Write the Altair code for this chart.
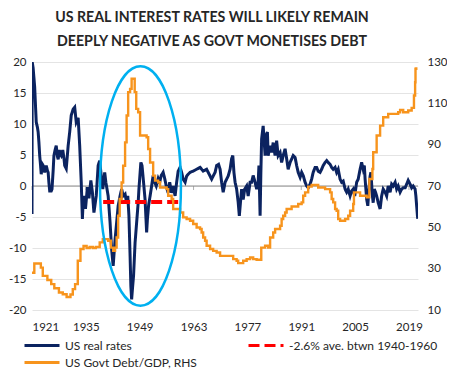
import altair as alt
import pandas as pd

# ---------------- data ----------------
rate_year = [1921.0, 1921.05, 1921.3, 1921.7, 1922.1, 1922.4, 1922.6, 1922.8, 1923.0, 1923.2,
             1923.4, 1923.7, 1923.9, 1924.3, 1924.7, 1925.0, 1925.2, 1925.4, 1925.6, 1926.0,
             1926.2, 1926.5, 1926.7, 1927.0, 1927.3, 1927.6, 1927.8, 1928.1, 1928.3, 1928.6,
             1929.0, 1929.3, 1929.5, 1929.9, 1930.2, 1930.4, 1930.8, 1931.2, 1931.7, 1932.1,
             1932.3, 1932.5, 1933.0, 1933.4, 1933.8, 1934.1, 1934.3, 1934.5, 1934.9, 1935.4,
             1935.8, 1936.3, 1936.7, 1937.1, 1937.7, 1938.2, 1938.6, 1939.0, 1939.4, 1939.9,
             1940.2, 1940.5, 1940.8, 1941.3, 1941.7, 1942.1, 1942.6, 1943.0, 1943.4, 1943.9,
             1944.3, 1944.7, 1945.2, 1945.6, 1945.9, 1946.2, 1946.5, 1946.7, 1946.9, 1947.1,
             1947.4, 1947.8, 1948.2, 1948.6, 1948.8, 1949.3, 1949.6, 1950.0, 1950.4, 1950.8,
             1951.0, 1951.3, 1951.7, 1952.1, 1952.5, 1952.9, 1953.3, 1953.8, 1954.2, 1954.6,
             1955.1, 1955.5, 1955.9, 1956.4, 1956.8, 1957.3, 1957.7, 1958.2, 1958.6, 1959.0,
             1959.5, 1959.9, 1960.3, 1960.8, 1961.2, 1961.6, 1962.1, 1962.9, 1963.8, 1964.7,
             1965.5, 1966.4, 1967.3, 1967.7, 1968.1, 1968.6, 1969.0, 1969.5, 1969.9, 1970.3,
             1970.7, 1971.2, 1971.6, 1972.0, 1972.5, 1972.9, 1973.2, 1973.5, 1973.8, 1974.2,
             1974.6, 1974.9, 1975.2, 1975.5, 1975.9, 1976.3, 1976.8, 1977.2, 1977.7, 1978.1,
             1978.5, 1979.0, 1979.4, 1979.8, 1980.0, 1980.3, 1980.5, 1980.7, 1981.1, 1981.6,
             1981.8, 1982.2, 1982.4, 1982.9, 1983.3, 1983.7, 1984.2, 1984.6, 1985.0, 1985.5,
             1985.9, 1986.3, 1986.8, 1987.2, 1987.6, 1988.1, 1988.9, 1989.4, 1989.8, 1990.2,
             1990.7, 1991.1, 1991.5, 1992.0, 1992.4, 1992.8, 1993.3, 1993.7, 1994.1, 1994.6,
             1995.0, 1995.4, 1995.9, 1996.3, 1996.7, 1997.2, 1997.6, 1998.0, 1998.5, 1998.9,
             1999.3, 1999.8, 2000.2, 2000.6, 2001.1, 2001.5, 2001.9, 2002.4, 2002.8, 2003.2,
             2003.7, 2004.1, 2004.5, 2004.9, 2005.4, 2005.8, 2006.3, 2006.7, 2007.1, 2007.4,
             2007.6, 2008.0, 2008.3, 2008.6, 2008.9, 2009.1, 2009.5, 2009.7, 2010.0, 2010.3,
             2010.6, 2011.0, 2011.5, 2011.9, 2012.3, 2012.8, 2013.2, 2013.6, 2014.1, 2014.5,
             2014.9, 2015.4, 2015.8, 2016.2, 2016.7, 2017.1, 2017.5, 2018.0, 2018.4, 2018.8,
             2019.3, 2019.7, 2020.1, 2020.6, 2020.8, 2021.2, 2021.3]
rate_val = [-4.5, 20.0, 19.0, 15.9, 10.3, 9.5, 8.7, 7.0, 4.9, 3.5,
            1.9, 3.5, 3.3, 2.2, 3.3, 2.5, 2.2, 0.5, -0.8, -0.8,
            -0.5, 2.5, 4.9, 5.8, 6.5, 4.8, 4.3, 5.8, 5.2, 4.9,
            5.8, 4.5, 3.3, 2.8, 5.0, 6.5, 8.7, 11.4, 12.4, 12.7,
            11.5, 10.3, 11.0, 6.5, 0.6, -5.3, -2.5, -1.6, -3.7, -0.2,
            -2.0, 0.9, -1.0, -4.3, -1.6, 3.3, 4.1, 1.6, -0.5, 2.2,
            0.6, -0.5, -1.6, -5.9, -10.2, -12.9, -8.6, -5.9, -3.2, -1.6,
            -0.5, -1.6, -1.3, -2.7, -1.6, -4.8, -11.3, -16.1, -18.3, -16.7,
            -14.5, -9.1, -5.9, -2.7, -0.5, 3.8, 3.3, 0.6, -2.2, -7.5,
            -5.4, -3.2, -1.6, 0.0, 1.7, 0.6, 0.0, 1.2, 0.6, 1.7,
            2.2, 1.2, 0.0, -1.1, 0.6, -1.1, 0.0, -1.6, 0.6, 2.4,
            3.0, 2.2, 1.1, 0.6, 1.6, 1.9, 2.2, 2.4, 2.7, 3.0,
            2.4, 2.7, 1.6, 1.1, 1.6, 2.2, 3.3, 3.5, 2.7, 0.6,
            -1.0, 0.6, 1.1, 1.6, 2.7, 4.4, 4.9, 2.2, 0.6, -0.5,
            -2.6, -4.8, -2.6, -0.5, -2.2, -0.5, 0.0, -1.6, 0.6, 0.6,
            1.7, 0.6, -0.5, 0.6, 3.3, -4.8, 2.2, 7.6, 9.7, 4.9,
            8.1, 8.7, 4.9, 6.5, 5.4, 7.0, 4.9, 7.3, 4.9, 5.4,
            3.8, 4.9, 6.0, 4.4, 2.7, 3.8, 4.9, 4.6, 3.3, 2.2,
            1.4, 2.2, 1.7, 0.6, 0.0, -0.3, 0.3, 1.1, 2.2, 3.0,
            3.0, 2.4, 2.2, 2.7, 3.3, 3.8, 4.1, 3.8, 3.5, 3.0,
            2.7, 3.0, 2.2, 2.7, 1.1, 0.6, 0.8, -0.5, -1.0, -0.5,
            -1.6, -0.8, -0.5, -1.6, 0.6, 1.1, 2.7, 3.8, 2.7, 3.3,
            1.1, -2.1, -3.2, -0.5, 1.6, 2.2, -1.6, -2.7, -0.5, -1.0,
            -1.6, -2.7, -3.7, -1.6, -0.5, -1.0, -1.6, 0.0, -1.0, 0.3,
            0.0, 0.6, -0.5, 0.0, -1.0, -0.5, -0.3, -0.3, 0.3, 0.9,
            0.3, -0.3, 0.0, -0.5, -1.6, -4.8, -5.3]

debt_year = [1921.0, 1921.6, 1923.3, 1923.8, 1925.0, 1926.0, 1926.8, 1928.0, 1929.0, 1930.0,
             1931.0, 1931.6, 1932.2, 1932.9, 1933.6, 1934.4, 1935.2, 1936.0, 1936.8, 1937.6,
             1938.6, 1939.4, 1940.8, 1941.5, 1942.1, 1942.6, 1943.0, 1943.4, 1943.8, 1944.3,
             1944.7, 1945.2, 1945.6, 1946.0, 1946.5, 1946.9, 1947.7, 1948.1, 1948.6, 1949.1,
             1950.8, 1951.2, 1951.7, 1952.5, 1953.0, 1953.8, 1954.3, 1956.0, 1956.4, 1957.3,
             1957.7, 1959.5, 1960.3, 1961.2, 1962.1, 1962.9, 1963.8, 1964.7, 1965.1, 1965.5,
             1966.0, 1966.4, 1967.3, 1968.1, 1969.0, 1969.9, 1973.3, 1974.2, 1974.6, 1975.9,
             1976.8, 1977.7, 1978.5, 1979.4, 1980.6, 1981.6, 1982.4, 1982.9, 1983.7, 1984.2,
             1985.5, 1985.9, 1986.3, 1986.8, 1987.2, 1988.5, 1990.2, 1991.1, 1991.5, 1992.0,
             1992.8, 1993.7, 1995.4, 1997.2, 1998.5, 1998.9, 1999.3, 1999.8, 2000.2, 2000.6,
             2001.1, 2002.4, 2003.2, 2003.7, 2004.5, 2004.7, 2006.3, 2008.0, 2008.7, 2009.5,
             2009.7, 2010.6, 2011.5, 2012.3, 2013.6, 2016.2, 2016.7, 2017.5, 2018.8, 2019.7,
             2020.3, 2020.6, 2020.7, 2020.9]
debt_val = [28.0, 32.5, 30.5, 26.5, 24.5, 22.5, 20.5, 18.5, 17.6, 16.3,
            17.5, 20.1, 22.5, 33.8, 39.5, 41.0, 40.0, 40.5, 40.0, 40.5,
            42.7, 44.3, 43.5, 40.2, 38.6, 40.2, 45.1, 55.6, 63.7, 71.7,
            79.8, 91.1, 104.1, 115.4, 117.0, 121.9, 115.4, 107.3, 105.7, 94.4,
            93.6, 87.9, 81.4, 75.0, 72.6, 71.8, 69.3, 68.5, 65.3, 63.7,
            58.9, 57.2, 54.8, 54.0, 53.2, 51.6, 49.9, 49.2, 47.5, 45.1,
            43.5, 41.1, 39.5, 38.6, 37.8, 36.2, 34.6, 33.8, 32.7, 33.8,
            34.6, 35.4, 34.6, 34.3, 40.2, 41.1, 40.2, 45.1, 47.5, 49.2,
            50.8, 54.0, 55.6, 57.2, 58.9, 60.1, 61.3, 62.1, 65.3, 66.9,
            69.7, 70.5, 69.3, 68.5, 66.9, 63.7, 62.1, 58.9, 58.0, 54.0,
            53.2, 54.0, 55.6, 58.0, 61.3, 66.9, 65.3, 64.5, 73.4, 78.2,
            86.3, 94.4, 99.2, 103.3, 104.9, 105.7, 106.8, 105.7, 106.5, 107.8,
            113.8, 120.2, 126.7, 127.5]

avg_years = [1939.5, 1959.0]
avg_value = -2.6
highlight_year = [1949.2]
highlight_value = [0]

x_tick_years = [1921, 1935, 1949, 1963, 1977, 1991, 2005, 2019]
left_ticks = [-20, -15, -10, -5, 0, 5, 10, 15, 20]
right_ticks = [10, 30, 50, 70, 90, 110, 130]

S_RATE = "US real rates"
S_AVG = "-2.6% ave. btwn 1940-1960"
S_DEBT = "US Govt Debt/GDP, RHS"
series_names = [S_RATE, S_AVG, S_DEBT]

title_lines = ["US REAL INTEREST RATES  WILL LIKELY REMAIN",
               "DEEPLY NEGATIVE AS GOVT MONETISES DEBT"]

# ---------------- styling ----------------
NAVY = "#0B2360"
ORANGE = "#F7941D"
RED = "#FF0000"
CYAN = "#00B0F0"
FONT = "Lato"
TXT = "#262626"

rates_df = pd.DataFrame({"year": rate_year, "val": rate_val, "series": S_RATE})
debt_df = pd.DataFrame({"year": debt_year, "debt": debt_val, "series": S_DEBT})
avg_df = pd.DataFrame({"year": avg_years, "val": [avg_value] * len(avg_years), "series": S_AVG})
ticks_df = pd.DataFrame({"year": x_tick_years, "val": [0] * len(x_tick_years)})
zero_df = pd.DataFrame({"val": [0]})
ell_df = pd.DataFrame({"year": highlight_year, "val": highlight_value})

x_scale = alt.Scale(domain=[1921, 2021.35], nice=False, zero=False)
left_scale = alt.Scale(domain=[-20, 20], nice=False)
right_scale = alt.Scale(domain=[10, 130], nice=False, zero=False)

legend = alt.Legend(
    orient="none", legendX=-9, legendY=277, columns=2, direction="horizontal",
    columnPadding=50, rowPadding=4, clipHeight=13, symbolType="stroke", symbolSize=1225,
    symbolStrokeWidth=3, labelFont=FONT, labelFontSize=12, labelColor=TXT,
    labelOffset=4, title=None, labelLimit=300, values=series_names,
)
color_enc = alt.Color("series:N", scale=alt.Scale(domain=series_names, range=[NAVY, RED, ORANGE]),
                      legend=legend)
dash_enc = alt.StrokeDash("series:N", scale=alt.Scale(domain=series_names, range=[[1, 0], [11, 5], [1, 0]]),
                          legend=legend)

x_axis = alt.Axis(values=x_tick_years, format="d", title=None, grid=False, domain=False,
                  ticks=False, labelPadding=11, labelFont=FONT, labelFontSize=11.5,
                  labelColor=TXT)
left_axis = alt.Axis(values=left_ticks, title=None, grid=True, gridColor="#E4E4E4",
                     domain=False, ticks=False, labelPadding=6, labelFont=FONT,
                     labelFontSize=11.5, labelColor=TXT,
                     labelExpr="replace(datum.label, '\u2212', '-')")
right_axis = alt.Axis(orient="right", values=right_ticks, title=None, grid=False,
                      domain=False, ticks=False, labelPadding=9, labelFont=FONT,
                      labelFontSize=11.5, labelColor=TXT)

X = alt.X("year:Q", scale=x_scale, axis=x_axis)
Y_LEFT = alt.Y("val:Q", scale=left_scale, axis=left_axis)

zero_rule = alt.Chart(zero_df).mark_rule(color="#8C8C8C", strokeWidth=1).encode(y=Y_LEFT)
tick_marks = alt.Chart(ticks_df).mark_tick(orient="vertical", size=4, thickness=1,
                                           color="#8C8C8C", yOffset=2).encode(x=X, y=Y_LEFT)
rate_line = alt.Chart(rates_df).mark_line(strokeWidth=3, clip=True).encode(
    x=X, y=Y_LEFT, color=color_enc, strokeDash=dash_enc)
avg_line = alt.Chart(avg_df).mark_line(strokeWidth=4).encode(
    x=X, y=Y_LEFT, color=color_enc, strokeDash=dash_enc)
left = alt.layer(zero_rule, tick_marks, rate_line, avg_line)

debt_line = alt.Chart(debt_df).mark_line(strokeWidth=2.4, interpolate="step-after", clip=True).encode(
    x=X, y=alt.Y("debt:Q", scale=right_scale, axis=right_axis),
    color=color_enc, strokeDash=dash_enc,
)

ELLIPSE = "M -0.338 0 A 0.338 1 0 1 1 0.338 0 A 0.338 1 0 1 1 -0.338 0 Z"
ellipse = alt.Chart(ell_df).mark_point(shape=ELLIPSE, size=57300, filled=False, stroke=CYAN,
                                       strokeWidth=2.5, opacity=1).encode(
    x=X, y=alt.Y("val:Q", scale=left_scale, axis=None),
)

chart = alt.layer(left, debt_line, ellipse).resolve_scale(y="independent").properties(
    width=386, height=248,
    autosize=alt.AutoSizeParams(type="none"),
    padding={"left": 24, "top": 54, "right": 29, "bottom": 60},
    title=alt.TitleParams(text=title_lines, font=FONT, fontSize=14.2, fontWeight="bold",
                          color=TXT, anchor="middle", dx=-13, offset=7, lineHeight=24),
).configure_view(stroke=None)

chart.save("out.html", embed_options={"renderer": "svg", "actions": False})
